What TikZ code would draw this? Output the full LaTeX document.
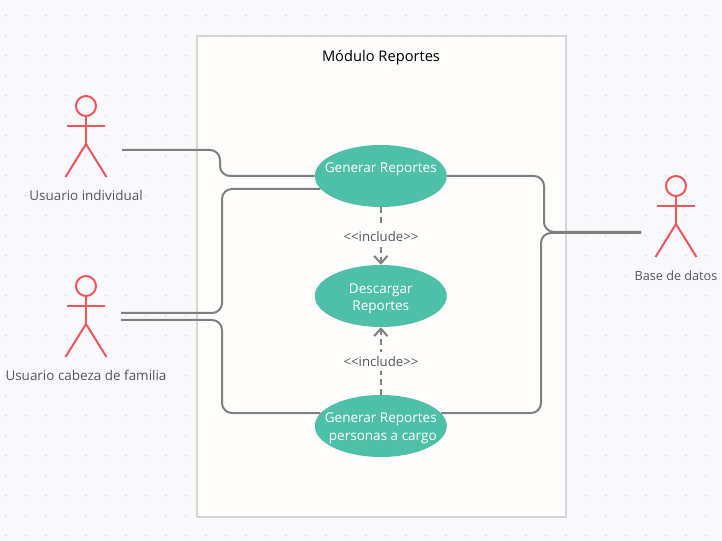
\documentclass[tikz,border=0pt]{standalone}
\usepackage{fontspec}
\setmainfont{Open Sans}
\usetikzlibrary{arrows.meta,shapes.geometric}
\definecolor{bgc}{HTML}{F9F9FC}
\definecolor{dotc}{HTML}{E3E3E7}
\definecolor{framefill}{HTML}{FEFDFC}
\definecolor{framedraw}{HTML}{D5D5D8}
\definecolor{ucfill}{HTML}{4FC0A8}
\definecolor{actorc}{HTML}{F0555A}
\definecolor{linec}{HTML}{7F7F7F}
\definecolor{textc}{HTML}{55555C}
\newcommand\uctext[2]{\makebox[0pt]{\raisebox{#1}[0pt][0pt]{\begin{tabular}[c]{@{}c@{}}#2\end{tabular}}}}
\tikzset{
  x=0.75pt,y=-0.75pt,
  usecase/.style={ellipse,fill=ucfill,text=white,minimum width=99pt,minimum height=46.5pt,inner sep=0pt,font=\fontsize{10.15}{12.75}\selectfont},
  actorline/.style={draw=actorc,line width=1.5pt},
  conn/.style={draw=linec,line width=1.5pt,rounded corners=7.5pt},
  incl/.style={draw=linec,line width=1.5pt,dash pattern=on 4.5pt off 3pt,-{Straight Barb[length=5.5pt,width=10pt,line width=1.5pt]}},
  lbl/.style={text=textc,font=\fontsize{10.1}{12}\selectfont,inner sep=0pt},
  incllbl/.style={lbl,fill=framefill,inner xsep=2pt,inner ysep=3pt,font=\fontsize{9.9}{12}\selectfont}
}
\newcommand\actor[2]{%
  \draw[actorline] (#1,#2) circle (7.5pt);
  \draw[actorline] (#1,#2+10) -- (#1,#2+38);
  \draw[actorline] (#1-19,#2+20) -- (#1+19,#2+20);
  \draw[actorline] (#1-20.5,#2+71) -- (#1,#2+38) -- (#1+20.5,#2+71);
}
\begin{document}
\begin{tikzpicture}
\useasboundingbox (0,0) rectangle (722,541);
\fill[bgc] (0,0) rectangle (722,541);
\foreach \i in {0,...,35}{\foreach \j in {0,...,26}{
  \fill[dotc] ({5.7+20*\i},{15.7+20*\j}) circle (0.9pt);
}}
\node[draw=framedraw,fill=framefill,line width=1.5pt,minimum width=276.75pt,minimum height=360.5pt,inner sep=0pt] (frame) at (381,276.75) {};
\node[text=black,font=\fontsize{11}{13}\selectfont,inner sep=0pt] (title) at (381,58) {Módulo Reportes};

\actor{86}{106}
\actor{86}{286}
\actor{676}{186}
\node[lbl] (a1) at (86,195.5) {Usuario individual};
\node[lbl] (a2) at (86,375.5) {Usuario cabeza de familia};
\node[lbl,font=\fontsize{9.5}{12}\selectfont] (a3) at (676,275.5) {Base de datos};
\coordinate (p1) at (122,150);
\coordinate (p2) at (121,313);
\coordinate (p3) at (121,320);
\coordinate (p4) at (641,232);
\coordinate (p5) at (641,233);

\node[usecase] (e1) at (380.8,176) {\uctext{3pt}{Generar Reportes}};
\node[usecase] (e2) at (380.8,296) {\uctext{-4.25pt}{Descargar\\[0.2pt]Reportes}};
\node[usecase] (e3) at (380.8,426) {\uctext{-4.25pt}{Generar Reportes\\[0.5pt]\hspace*{3pt}personas a cargo}};

\draw[conn] (p1) -- (220,150) -- (220,176) -- (e1.west);
\draw[conn] (p2) -- (222,313) -- (222,189) -- (e1.192.2);
\draw[conn] (p3) -- (222,320) -- (222,413) -- (e3.168);
\draw[conn] (e1.east) -- (544,176) -- (544,232) -- (p4);
\draw[conn] (e3.12) -- (541,413) -- (541,233) -- (p5);

\draw[incl] (e1.south) -- (e2.north);
\draw[incl] (e3.north) -- (e2.south);
\node[incllbl] (i1) at (381,236.5) {<{}<include>{}>};
\node[incllbl] (i2) at (381,361.5) {<{}<include>{}>};
\end{tikzpicture}
\end{document}
